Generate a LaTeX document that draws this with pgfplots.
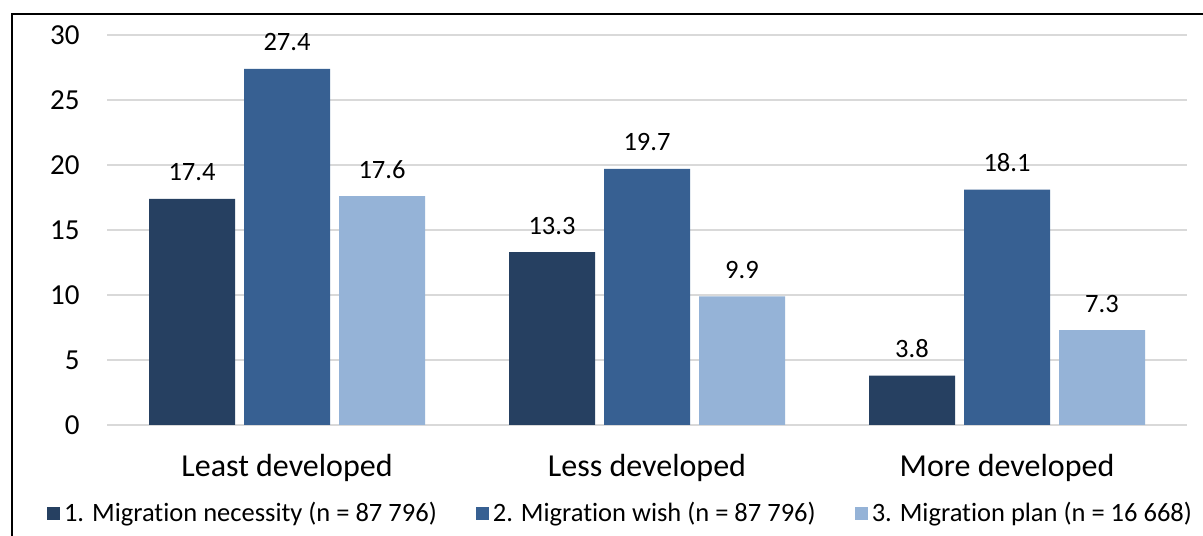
\documentclass[border=0pt]{standalone}
\usepackage{pgfplots}
\pgfplotsset{compat=1.18}
\usepackage{fontspec}
\setmainfont{Carlito}[RawFeature={-liga;-clig;-dlig}]
\definecolor{cA}{HTML}{264061}
\definecolor{cB}{HTML}{376092}
\definecolor{cC}{HTML}{95B3D7}
\definecolor{gridc}{HTML}{D9D9D9}
\begin{document}
\begin{tikzpicture}
\useasboundingbox (0,0) rectangle (601.5pt,267.5pt);
\fill[white] (0,0) rectangle (601.5pt,267.5pt);
\draw[black, line width=1pt] (6pt,-2pt) -- (6pt,260.5pt) -- (604pt,260.5pt);
\begin{axis}[
  at={(53.5pt,55pt)}, anchor=south west,
  scale only axis, width=540pt, height=195pt,
  xmin=-0.5, xmax=2.5, ymin=0, ymax=30,
  ybar=4.5pt, bar width=43pt,
  axis line style={draw=none},
  major tick length=0pt,
  ymajorgrids, grid style={gridc, line width=0.6pt},
  ytick={0,5,10,15,20,25,30},
  yticklabels={0,5,10,15,20,25,30},
  yticklabel style={font=\fontsize{14.5pt}{16pt}\selectfont, anchor=east, inner sep=0pt, xshift=-13.5pt},
  xtick={0,1,2},
  xticklabels={Least developed, Less developed, More developed},
  xticklabel style={font=\fontsize{16pt}{18pt}\selectfont, anchor=base, inner sep=0pt, yshift=-25.5pt},
  nodes near coords,
  nodes near coords style={font=\fontsize{13.25pt}{15pt}\selectfont, anchor=base, inner sep=0pt, yshift=9pt, text=black},
  /pgf/number format/.cd, fixed, fixed zerofill, precision=1, assume math mode=true, /pgfplots/.cd,
  legend columns=3,
  legend style={at={(0.4764,-0.227)}, anchor=center, draw=none, fill=none,
    font=\fontsize{13.25pt}{15pt}\selectfont, inner sep=0pt,
    /tikz/every even column/.append style={column sep=17.5pt}},
  legend image code/.code={\fill[#1, draw=none] (0pt,-3.25pt) rectangle (6.5pt,3.25pt);},
  clip=false,
]
\addplot[fill=cA, draw=none] coordinates {(0,17.4) (1,13.3) (2,3.8)};
\addplot[fill=cB, draw=none] coordinates {(0,27.4) (1,19.7) (2,18.1)};
\addplot[fill=cC, draw=none] coordinates {(0,17.6) (1,9.9) (2,7.3)};
\legend{1. Migration necessity (n = 87 796), 2. Migration wish (n = 87 796), 3. Migration plan (n = 16 668)}
\end{axis}
\end{tikzpicture}
\end{document}
